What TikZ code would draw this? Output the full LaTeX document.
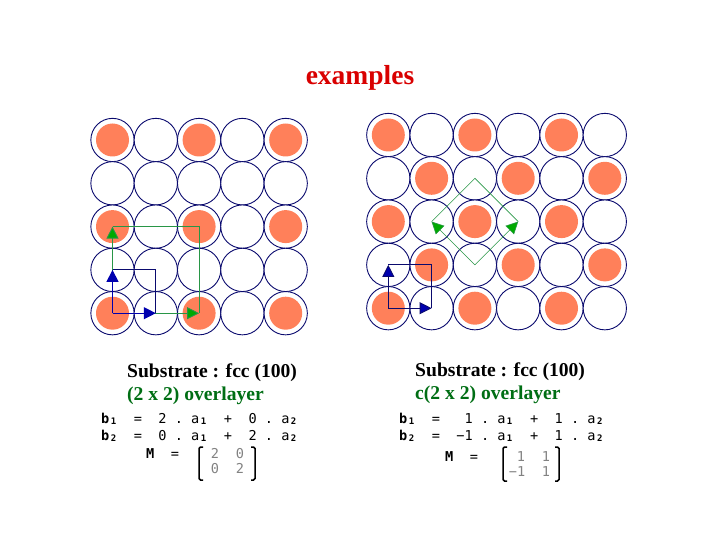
\documentclass[tikz,border=0pt]{standalone}
\usepackage{fontspec}
\setmainfont{Liberation Serif}
\setmonofont{DejaVu Sans Mono}
\usetikzlibrary{arrows.meta}
\definecolor{atomline}{RGB}{10,10,110}
\definecolor{atomfill}{RGB}{255,128,90}
\definecolor{bluetip}{RGB}{0,0,175}
\definecolor{greentip}{RGB}{0,170,0}
\definecolor{greenline}{RGB}{40,150,70}
\definecolor{overgreen}{RGB}{0,110,20}
\definecolor{matgray}{RGB}{130,130,130}
\newcommand{\ix}[1]{\makebox[0.6em]{\raisebox{-1.5pt}{\fontsize{9}{9}\selectfont\bfseries #1}}}
\tikzset{
  atom/.style={circle, draw=atomline, line width=0.9pt, fill=white, minimum size=43.3pt, inner sep=0pt},
  adatom/.style={circle, fill=atomfill, minimum size=33pt, inner sep=0pt},
  titletxt/.style={anchor=base, inner sep=0pt, text=red!85!black, font=\fontsize{27.5}{28}\selectfont\bfseries},
  subtxt/.style={anchor=base west, inner sep=0pt, font=\fontsize{19.6}{20}\selectfont\bfseries},
  eqtxt/.style={anchor=base west, inner sep=0pt, font=\ttfamily\fontsize{13.6}{14}\selectfont},
  mattxt/.style={anchor=base, inner sep=0pt, text=matgray, font=\ttfamily\fontsize{13.6}{14}\selectfont},
  bluevec/.style={draw=bluetip, line width=1.2pt, -{Triangle[length=12pt,width=12pt,fill=bluetip]}},
  greenvec/.style={draw=greenline, line width=0.9pt, -{Triangle[length=12pt,width=12pt,fill=greentip]}},
  bluebox/.style={draw=atomline, line width=0.9pt},
  greenbox/.style={draw=greenline, line width=0.9pt},
  bracket/.style={draw=black, line width=1.5pt, rounded corners=1.5pt}
}
\begin{document}
\begin{tikzpicture}[x=1pt,y=1pt]
\useasboundingbox (0,0) rectangle (720,-540);
\node[titletxt] (title) at (360,-85) {examples};
% left lattice
\foreach \c in {1,...,5} \foreach \r in {1,...,5}
  \node[atom] (l\c\r) at ({112.5+43.3*(\c-1)},{-140-43.3*(\r-1)}) {};
\foreach \c/\r in {1/1,3/1,5/1,1/3,3/3,5/3,1/5,3/5,5/5}
  \node[adatom] (la\c\r) at (l\c\r) {};
\draw[greenbox] (l13.center) -- (l33.center) -- (l35.center);
\draw[greenvec] (l15.center) -- (l35.center);
\draw[greenvec] (l15.center) -- (l13.center);
\draw[bluebox] (l14.center) -- (l24.center) -- (l25.center);
\draw[bluevec] (l15.center) -- (l25.center);
\draw[bluevec] (l15.center) -- (l14.center);
% right lattice
\foreach \c in {1,...,6} \foreach \r in {1,...,5}
  \node[atom] (r\c\r) at ({388.3+43.3*(\c-1)},{-135-43.3*(\r-1)}) {};
\foreach \c/\r in {1/1,3/1,5/1,2/2,4/2,6/2,1/3,3/3,5/3,2/4,4/4,6/4,1/5,3/5,5/5}
  \node[adatom] (ra\c\r) at (r\c\r) {};
\draw[greenbox, line width=0.6pt] (r23.center) -- (r32.center) -- (r43.center);
\draw[greenvec, line width=0.6pt] (r34.center) -- (r23.center);
\draw[greenvec, line width=0.6pt] (r34.center) -- (r43.center);
\draw[bluebox] (r14.center) -- (r24.center) -- (r25.center);
\draw[bluebox, -{Triangle[length=12pt,width=12pt,fill=bluetip]}] (r15.center) -- (r25.center);
\draw[bluebox, -{Triangle[length=12pt,width=12pt,fill=bluetip]}] (r15.center) -- (r14.center);
% left text
\node[subtxt] (lsub) at (127,-377) {Substrate : fcc (100)};
\node[subtxt, text=overgreen] (lover) at (127,-400) {(2 x 2) overlayer};
\node[eqtxt] (lb1) at (101,-423) {\textbf{b\ix{1}}\ \ =\ \ 2 . a\ix{1}\ \ +\ \ 0 . a\ix{2}};
\node[eqtxt] (lb2) at (101,-440) {\textbf{b\ix{2}}\ \ =\ \ 0 . a\ix{1}\ \ +\ \ 2 . a\ix{2}};
\node[eqtxt] (lm) at (146,-458) {\textbf{M}\ \ =};
\node[mattxt] (l11) at (215,-458) {2};
\node[mattxt] (l12) at (240,-458) {0};
\node[mattxt] (l21) at (215,-473) {0};
\node[mattxt] (l22) at (240,-473) {2};
\draw[bracket] (203,-447) -- (199,-447) -- (199,-480) -- (203,-480);
\draw[bracket] (251,-447) -- (255,-447) -- (255,-480) -- (251,-480);
% right text
\node[subtxt] (rsub) at (415,-376) {Substrate : fcc (100)};
\node[subtxt, text=overgreen] (rover) at (415,-399) {c(2 x 2) overlayer};
\node[eqtxt] (rb1) at (399,-423) {\textbf{b\ix{1}}\ \ =\ \ \ 1 . a\ix{1}\ \ +\ \ 1 . a\ix{2}};
\node[eqtxt] (rb2) at (399,-440) {\textbf{b\ix{2}}\ \ =\ \ −1 . a\ix{1}\ \ +\ \ 1 . a\ix{2}};
\node[eqtxt] (rm) at (445,-461) {\textbf{M}\ \ =};
\node[mattxt] (r11) at (521,-461) {1};
\node[mattxt] (r12) at (546,-461) {1};
\node[mattxt] (r21) at (517,-476) {−1};
\node[mattxt] (r22) at (546,-476) {1};
\draw[bracket] (507,-447) -- (503,-447) -- (503,-481) -- (507,-481);
\draw[bracket] (555,-447) -- (559,-447) -- (559,-481) -- (555,-481);
\end{tikzpicture}
\end{document}
